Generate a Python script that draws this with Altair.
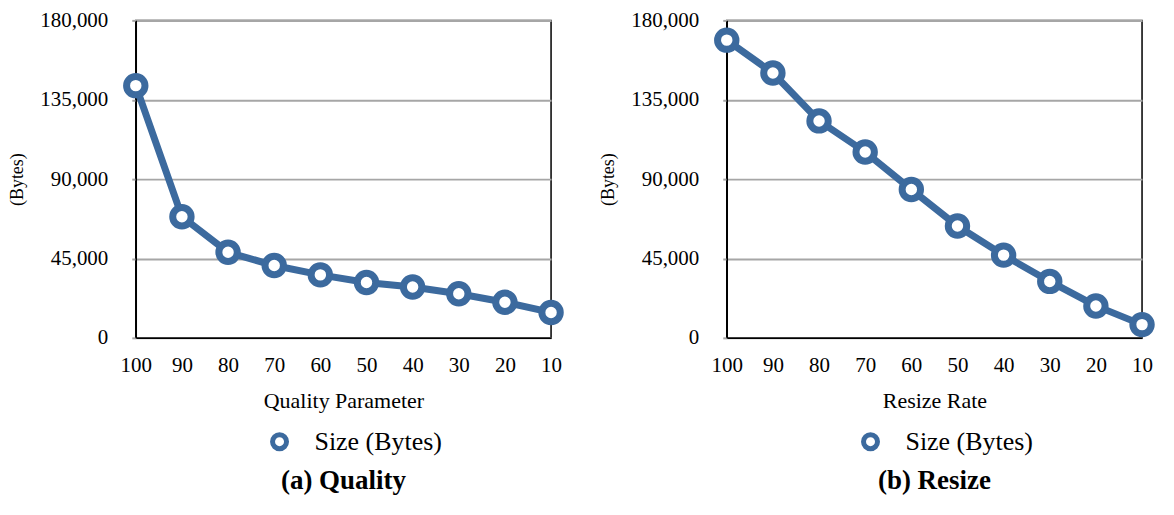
import altair as alt
import pandas as pd

x_labels = ["100", "90", "80", "70", "60", "50", "40", "30", "20", "10"]
quality_sizes = [143000, 68700, 48500, 41000, 35700, 31400, 28800, 25000, 20200, 14400]
resize_sizes = [168800, 150200, 123000, 105400, 84100, 63400, 46900, 32000, 18100, 7500]
y_ticks = [0, 45000, 90000, 135000, 180000]
series_name = "Size (Bytes)"

BLUE = "#3C6A9E"
FONT = "Liberation Serif"
W, H = 416, 318


def panel(values, xtitle, caption):
    df = pd.DataFrame({"x": x_labels, "y": values, "series": series_name})
    base = alt.Chart(df).encode(
        x=alt.X(
            "x:O",
            sort=x_labels,
            scale=alt.Scale(type="point", padding=0),
            axis=alt.Axis(title=xtitle, labelAngle=0, ticks=False, labelPadding=17,
                          titlePadding=15, grid=False, labelFont=FONT, titleFont=FONT,
                          labelFontSize=21, titleFontSize=22, labelColor="black",
                          titleColor="black", titleFontWeight="normal",
                          domainColor="black", domainWidth=1.5),
        ),
        y=alt.Y(
            "y:Q",
            scale=alt.Scale(domain=[0, 180000]),
            axis=alt.Axis(values=y_ticks, labelExpr="format(datum.value, ',')",
                          title="(Bytes)", tickSize=4,
                          tickColor="#A6A6A6", tickWidth=2, labelPadding=24,
                          titlePadding=13, labelFont=FONT, titleFont=FONT,
                          labelFontSize=21, titleFontSize=18, labelColor="black",
                          titleColor="black", titleFontWeight="normal",
                          domainColor="black", domainWidth=1.5,
                          gridColor="#A6A6A6", gridWidth=2),
        ),
    )
    line = base.mark_line(color=BLUE, strokeWidth=7)
    pts = base.mark_point(filled=True, fill="white", stroke=BLUE, strokeWidth=7,
                          size=340, opacity=1, shape="circle").encode(
        stroke=alt.Stroke("series:N", scale=alt.Scale(range=[BLUE]),
                          legend=alt.Legend(orient="none", legendX=131, legendY=H + 91,
                                            title=None,
                                            symbolType="circle", symbolFillColor="white",
                                            symbolStrokeColor=BLUE,
                                            symbolStrokeWidth=5, symbolSize=196,
                                            labelFontSize=26, labelFont=FONT,
                                            labelOffset=22,
                                            labelColor="black"))
    )
    return alt.layer(line, pts).properties(
        width=W, height=H,
        title=alt.TitleParams(caption, orient="bottom", fontSize=27, fontWeight="bold",
                              font=FONT, color="black", offset=9),
    )


chart = alt.hconcat(
    panel(quality_sizes, "Quality Parameter", "(a) Quality"),
    panel(resize_sizes, "Resize Rate", "(b) Resize"),
    spacing=176,
    bounds="flush",
).resolve_scale(stroke="independent").resolve_legend(stroke="independent").configure_view(
    stroke="black", strokeWidth=1.5
).properties(padding=0)

chart.save("out.html", embed_options={"renderer": "svg", "actions": False})
